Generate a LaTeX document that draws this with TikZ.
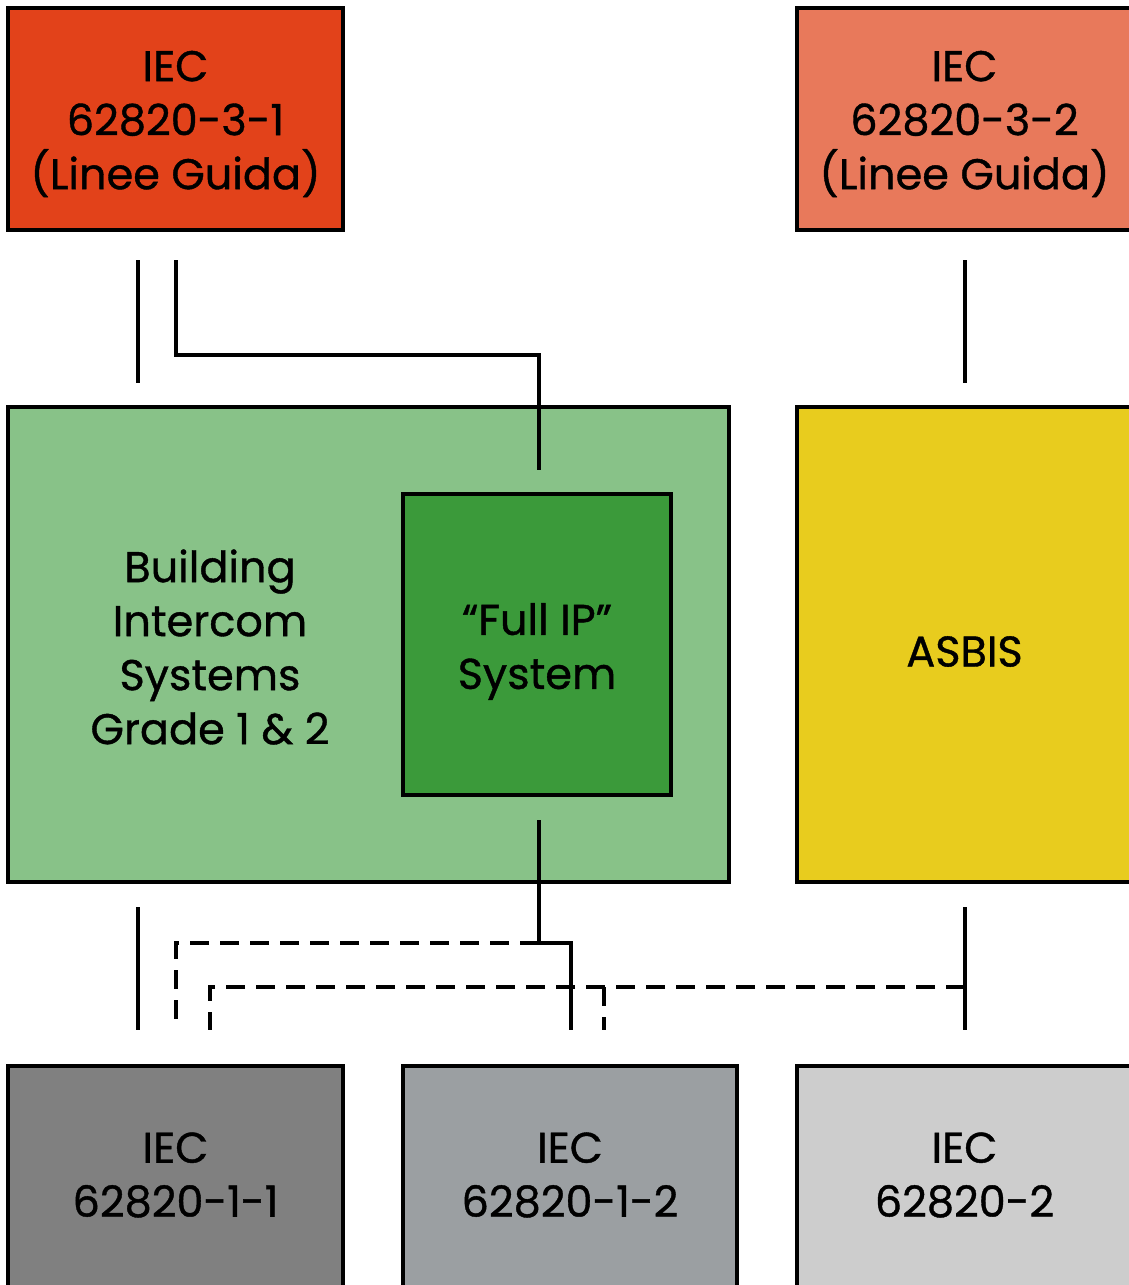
\documentclass[tikz,border=0pt]{standalone}
\usepackage{fontspec}
\setmainfont{Poppins}
\newfontfamily\medfont{Poppins}[FakeBold=0.9]
\definecolor{cOrange}{HTML}{E2421A}
\definecolor{cSalmon}{HTML}{E8795B}
\definecolor{cLGreen}{HTML}{88C288}
\definecolor{cDGreen}{HTML}{3B9A3A}
\definecolor{cYellow}{HTML}{E8CC1E}
\definecolor{cGreyA}{HTML}{808080}
\definecolor{cGreyB}{HTML}{9B9FA2}
\definecolor{cGreyC}{HTML}{CDCDCD}
\begin{document}
\begin{tikzpicture}[x=1pt,y=-1pt,
  box/.style={draw=black, line width=3.2pt, inner sep=0pt},
  lbl/.style={inner sep=0pt, align=center, font=\medfont\fontsize{43}{54}\selectfont},
  conn/.style={line width=3.6pt},
  dashconn/.style={line width=3.6pt, dash pattern=on 19pt off 11pt}]
\useasboundingbox (0,0) rectangle (1129,1285);
\fill[white] (0,0) rectangle (1129,1285);
\clip (0,0) rectangle (1129,1285);

% top boxes
\node[box, fill=cOrange, minimum width=335pt, minimum height=222pt,
  label={[lbl,yshift=-5pt]center:{IEC\\62820-3-1\\(Linee Guida)}}] (g31) at (175.5,119) {};
\node[box, fill=cSalmon, minimum width=335pt, minimum height=222pt,
  label={[lbl,yshift=-5pt]center:{IEC\\62820-3-2\\(Linee Guida)}}] (g32) at (964.5,119) {};

% middle boxes
\node[box, fill=cLGreen, minimum width=721pt, minimum height=475pt] (bis) at (368.5,644.5) {};
\node[lbl] (bistxt) at (210,647) {Building\\Intercom\\Systems\\Grade 1 \& 2};
\node[box, fill=cDGreen, minimum width=268pt, minimum height=301pt,
  label={[lbl,yshift=-7pt]center:{“Full IP”\\System}}] (fip) at (537,644.5) {};
\node[box, fill=cYellow, minimum width=335pt, minimum height=475pt,
  label={[lbl,yshift=-7pt]center:{ASBIS}}] (asb) at (964.5,644.5) {};

% bottom boxes
\node[box, fill=cGreyA, minimum width=335pt, minimum height=222pt,
  label={[lbl,yshift=2pt]center:{IEC\\62820-1-1}}] (g11) at (175.5,1177) {};
\node[box, fill=cGreyB, minimum width=334pt, minimum height=222pt,
  label={[lbl,yshift=2pt]center:{IEC\\62820-1-2}}] (g12) at (570,1177) {};
\node[box, fill=cGreyC, minimum width=335pt, minimum height=222pt,
  label={[lbl,yshift=2pt]center:{IEC\\62820-2}}] (g2) at (964.5,1177) {};

% connector end points
\coordinate (a1) at (138,260); \coordinate (a2) at (138,383);
\coordinate (b1) at (176,260); \coordinate (b2) at (539,470);
\coordinate (c1) at (965,260); \coordinate (c2) at (965,383);
\coordinate (d1) at (539,820); \coordinate (dj) at (539,943); \coordinate (d2) at (571,1030);
\coordinate (e1) at (138,907); \coordinate (e2) at (138,1030);
\coordinate (f1) at (965,907); \coordinate (f2) at (965,1030);
\coordinate (fj) at (965,987);
\coordinate (h2) at (176,1030);
\coordinate (k2) at (210,1030);
\coordinate (kj) at (604,987); \coordinate (m2) at (604,1030);

% solid connectors
\draw[conn] (a1) -- (a2);
\draw[conn] (b1) |- (539,355) -- (b2);
\draw[conn] (c1) -- (c2);
\draw[conn] (d1) -- (dj) -| (d2);
\draw[conn] (e1) -- (e2);
\draw[conn] (f1) -- (f2);

% dashed connectors
\draw[dashconn] (dj) -| (h2);
\draw[dashconn] (fj) -| (k2);
\draw[dashconn] (kj) -- (m2);
\end{tikzpicture}
\end{document}
